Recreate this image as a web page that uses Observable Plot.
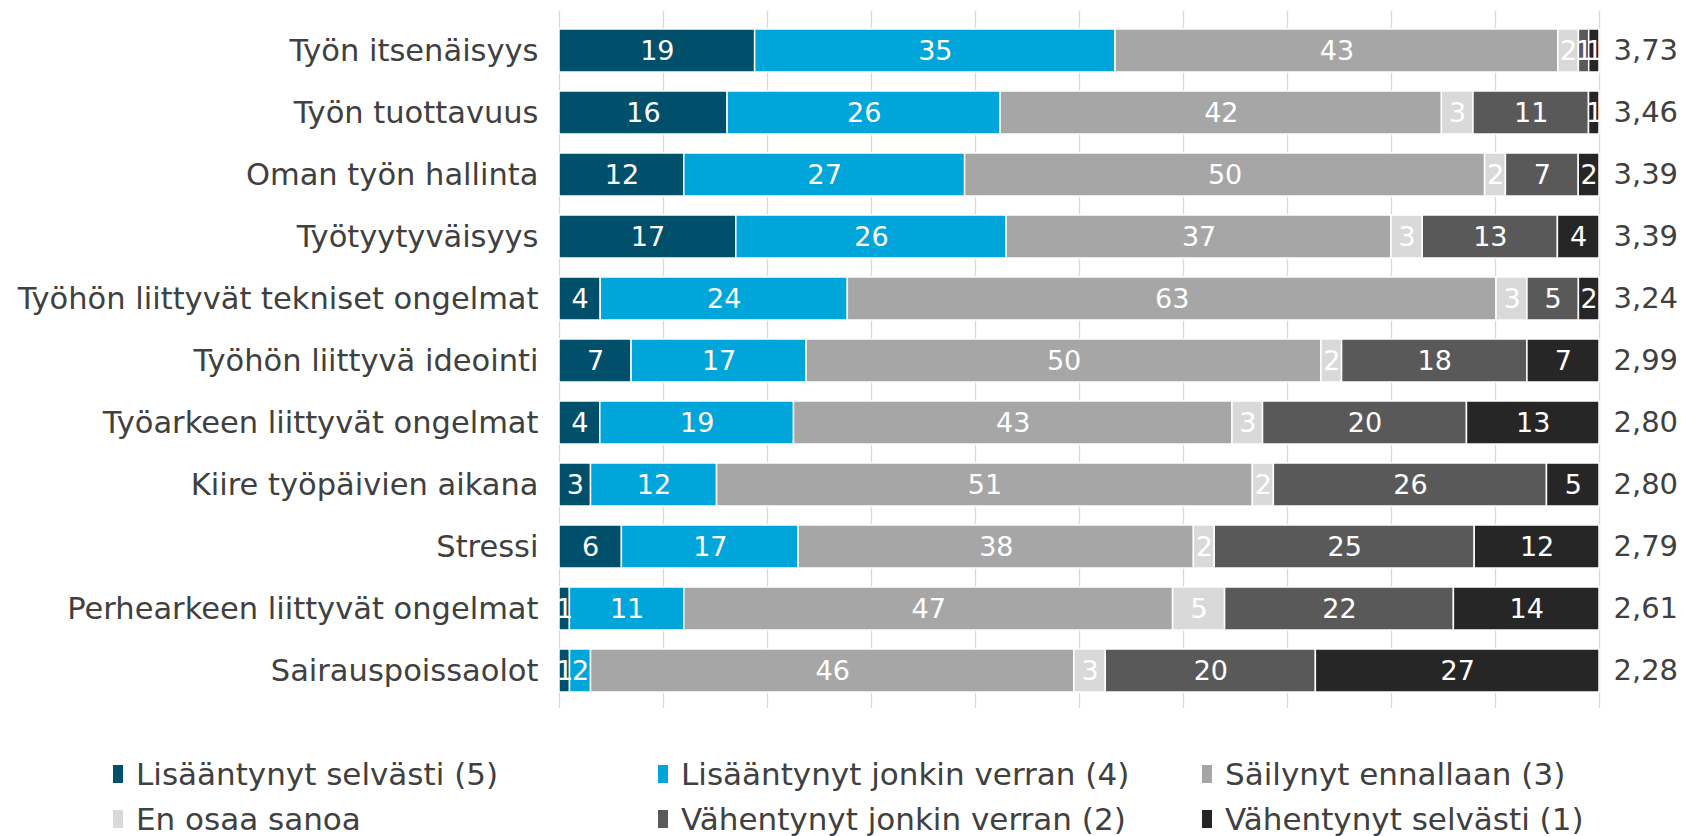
<!DOCTYPE html>
<html><head><meta charset="utf-8">
<script src="https://cdn.jsdelivr.net/npm/d3@7"></script>
<script src="https://cdn.jsdelivr.net/npm/@observablehq/plot@0.6"></script>
<style>
body{margin:0;background:#fff;font-family:"DejaVu Sans",Verdana,sans-serif;}
#legend{position:relative;height:111px;width:1686px;}
.item{position:absolute;display:flex;align-items:center;font-size:31px;color:#404040;white-space:nowrap;height:34px;}
.sw{width:10px;height:18px;margin-right:13px;}
</style></head><body><div id="chart"></div><div id="legend"></div>
<script>
const categories = ["Työn itsenäisyys","Työn tuottavuus","Oman työn hallinta","Työtyytyväisyys","Työhön liittyvät tekniset ongelmat","Työhön liittyvä ideointi","Työarkeen liittyvät ongelmat","Kiire työpäivien aikana","Stressi","Perhearkeen liittyvät ongelmat","Sairauspoissaolot"];
const groups = ["Lisääntynyt selvästi (5)","Lisääntynyt jonkin verran (4)","Säilynyt ennallaan (3)","En osaa sanoa","Vähentynyt jonkin verran (2)","Vähentynyt selvästi (1)"];
const colors = ["#004f6b","#00a5da","#a6a6a6","#d9d9d9","#595959","#262626"];
const lisSelv = [19,16,12,17,4,7,4,3,6,1,1];
const lisJonk = [35,26,27,26,24,17,19,12,17,11,2];
const sailynyt = [43,42,50,37,63,50,43,51,38,47,46];
const eos = [2,3,2,3,3,2,3,2,2,5,3];
const vahJonk = [1,11,7,13,5,18,20,26,25,22,20];
const vahSelv = [1,1,2,4,2,7,13,5,12,14,27];
const means = ["3,73","3,46","3,39","3,39","3,24","2,99","2,80","2,80","2,79","2,61","2,28"];
const gridTicks = [0,0.1,0.2,0.3,0.4,0.5,0.6,0.7,0.8,0.9,1];

const series = [lisSelv, lisJonk, sailynyt, eos, vahJonk, vahSelv];
const data = [];
categories.forEach((c, i) => series.forEach((s, g) => data.push({cat: c, group: groups[g], value: s[i]})));
const meanData = categories.map((c, i) => ({cat: c, mean: means[i]}));

const stackOpts = {x: "value", y: "cat", z: "group", order: groups, offset: "normalize"};

const chart = Plot.plot({
  width: 1686,
  height: 725,
  marginLeft: 559,
  marginRight: 87,
  marginTop: 18,
  marginBottom: 21,
  style: {fontFamily: '"DejaVu Sans", Verdana, sans-serif', color: "#404040", background: "#fff"},
  x: {domain: [0, 1], axis: null},
  y: {domain: categories, paddingInner: 0.3, paddingOuter: 0.15, label: null},
  color: {domain: groups, range: colors},
  marks: [
    Plot.ruleX(gridTicks, {stroke: "#d9d9d9", strokeWidth: 1.3, insetTop: -7, insetBottom: -4}),
    Plot.barX(data, Plot.stackX({...stackOpts, fill: "group", stroke: "white", strokeWidth: 1.5})),
    Plot.text(data, Plot.stackX({...stackOpts, text: "value", fill: "white", fontSize: 27})),
    Plot.text(meanData, {x: () => 1, y: "cat", text: "mean", textAnchor: "start", dx: 14, fontSize: 29, fill: "#404040"}),
    Plot.axisY({tickSize: 0, tickPadding: 21, fontSize: 30.5, label: null, fill: "#404040"})
  ]
});
document.getElementById("chart").appendChild(chart);

const legend = document.getElementById("legend");
const cols = [113, 658, 1202];
groups.forEach((g, i) => {
  const d = document.createElement("div");
  d.className = "item";
  d.style.left = cols[i % 3] + "px";
  d.style.top = (i < 3 ? 32 : 77) + "px";
  d.innerHTML = `<span class="sw" style="background:${colors[i]}"></span><span>${g}</span>`;
  legend.appendChild(d);
});
</script>
</body></html>
